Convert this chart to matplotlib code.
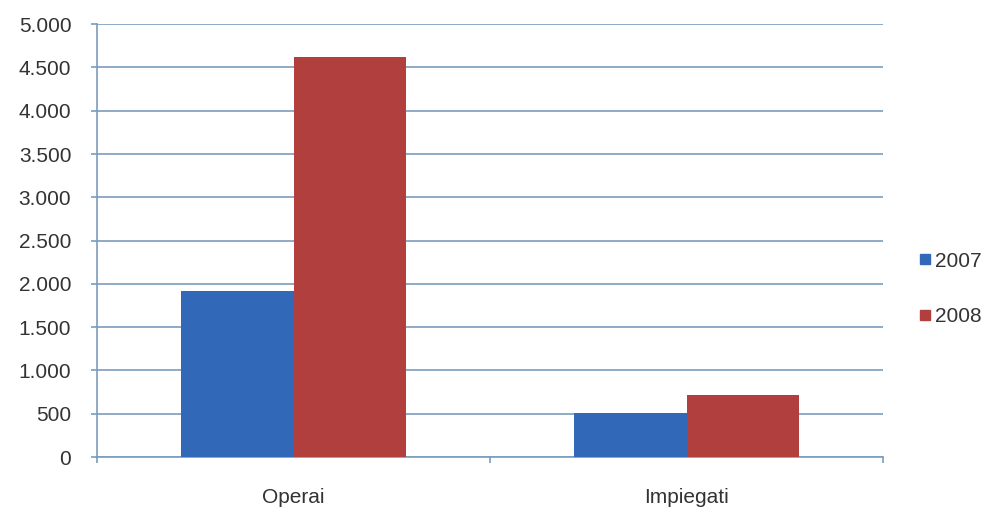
import matplotlib.pyplot as plt
from matplotlib.ticker import FuncFormatter, FixedLocator
from matplotlib.lines import Line2D

categories = ['Operai', 'Impiegati']
years = ['2007', '2008']
values_2007 = [1920, 505]
values_2008 = [4615, 720]

colors = ['#3169b8', '#b03f3e']
grid_color = '#7a9cbc'

plt.rcParams['font.family'] = ['Liberation Sans', 'DejaVu Sans']

fig = plt.figure(figsize=(9.92, 5.13), dpi=100)
ax = fig.add_axes([0.0978, 0.109, 0.7925, 0.844])

width = 0.286
x = range(len(categories))
ax.bar([i - width / 2 for i in x], values_2007, width=width, color=colors[0], zorder=3)
ax.bar([i + width / 2 for i in x], values_2008, width=width, color=colors[1], zorder=3)

ax.set_xlim(-0.5, 1.5)
ax.set_ylim(0, 5000)
ax.set_yticks(range(0, 5001, 500))
ax.yaxis.set_major_formatter(FuncFormatter(lambda v, p: f'{int(v):,}'.replace(',', '.')))
ax.set_xticks(list(x))
ax.set_xticklabels(categories)
ax.xaxis.set_minor_locator(FixedLocator([-0.5, 0.5, 1.5]))

ax.grid(axis='y', color=grid_color, linewidth=1.2, zorder=0)
for side in ['top', 'right']:
    ax.spines[side].set_visible(False)
ax.spines['left'].set_color(grid_color)
ax.spines['bottom'].set_color(grid_color)
ax.spines['left'].set_linewidth(1.2)
ax.spines['bottom'].set_linewidth(1.2)

ax.tick_params(axis='y', length=4.5, color=grid_color, width=1.2, pad=14,
               labelsize=15, labelcolor='#333333')
ax.tick_params(axis='x', which='major', length=0, pad=22,
               labelsize=15, labelcolor='#333333')
ax.tick_params(axis='x', which='minor', length=4.5, color=grid_color, width=1.2)

handles = [Line2D([], [], marker='s', linestyle='none', markersize=6.5,
                  color=c) for c in colors]
fig.legend(handles, years, loc='center left', bbox_to_anchor=(0.922, 0.437),
           frameon=False, fontsize=15, handletextpad=0.0, handlelength=1.0,
           labelspacing=1.75, borderpad=0, borderaxespad=0,
           labelcolor='#333333')

fig.savefig('out.png', dpi=100)
